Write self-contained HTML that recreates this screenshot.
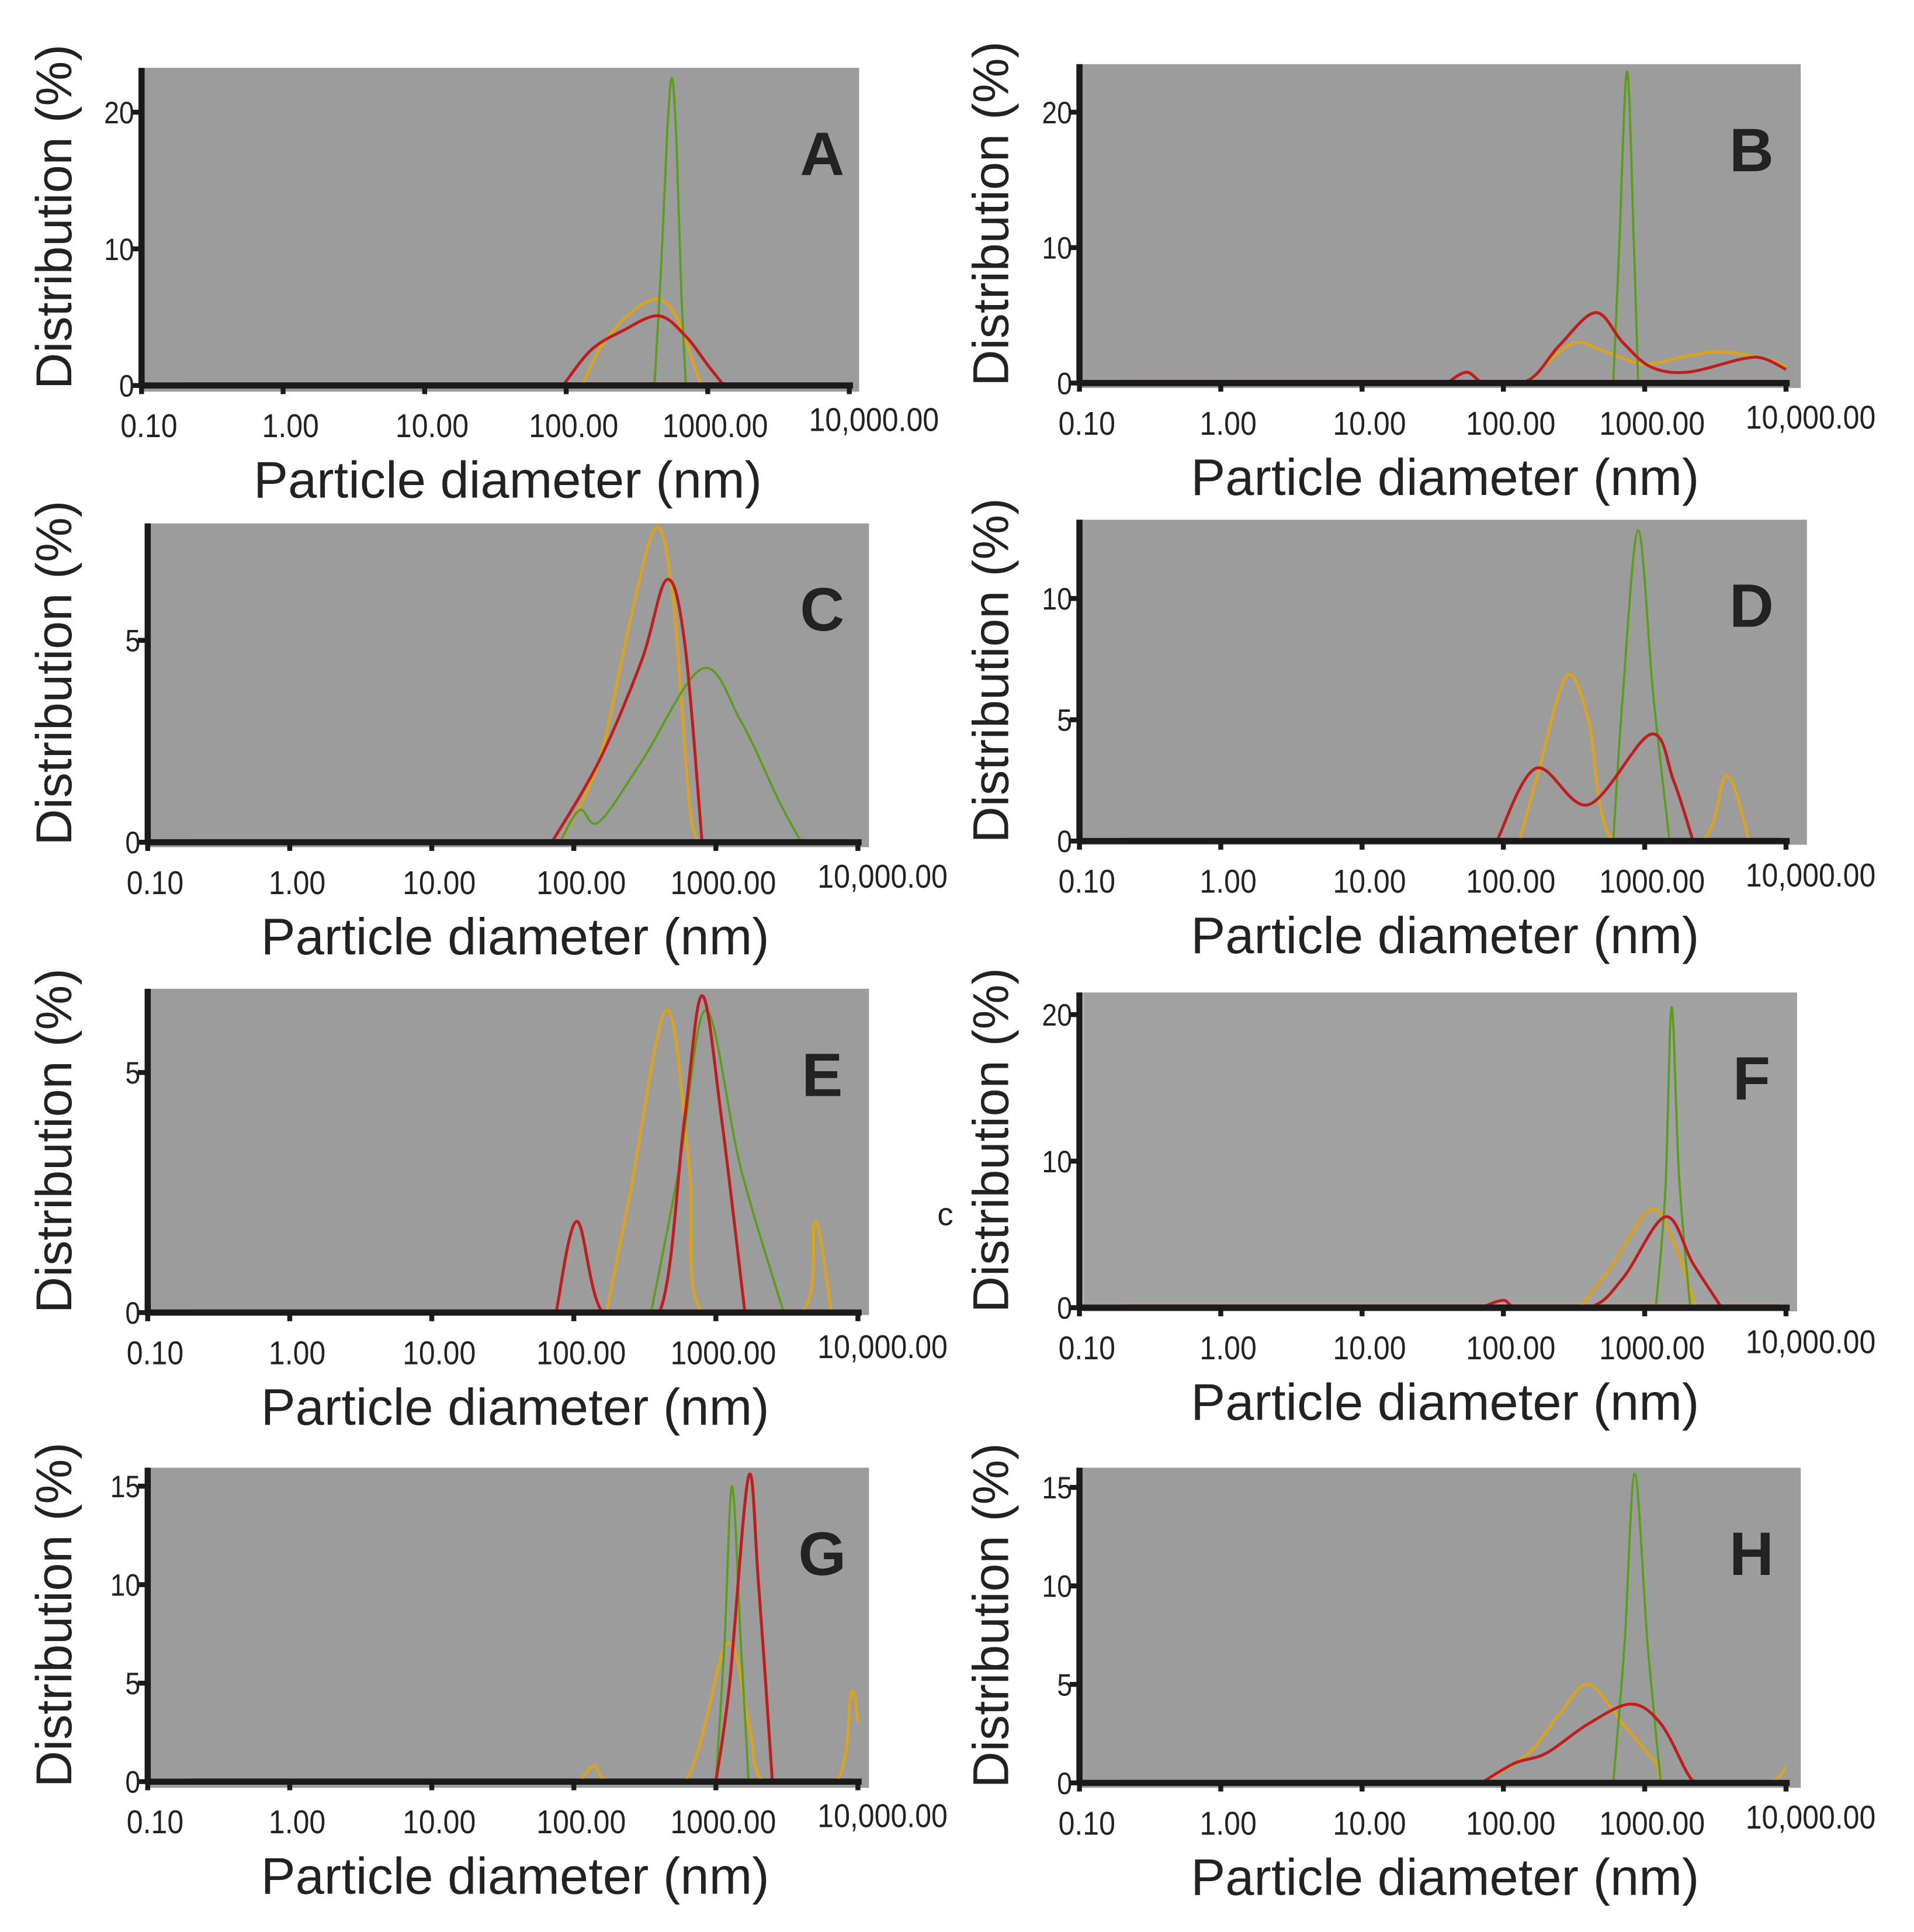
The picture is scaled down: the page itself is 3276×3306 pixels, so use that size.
<!DOCTYPE html>
<html><head><meta charset="utf-8"><style>
html,body{margin:0;padding:0;background:#fff;}
svg{display:block;}
text{font-family:"Liberation Sans",sans-serif;fill:#222;}
</style></head><body>
<svg id="fig" width="3276" height="3306" viewBox="0 0 1555 1569" xmlns="http://www.w3.org/2000/svg"></svg>
<script>
// Panel data: each series is [diameter_nm, distribution_%] points
const panelLetters = ["A","B","C","D","E","F","G","H"];
const xTickLabels = ["0.10","1.00","10.00","100.00","1000.00","10,000.00"];
const xTickValues = [0.1,1,10,100,1000,10000];
const yTicksA = [0,10,20], yTicksB = [0,10,20], yTicksC = [0,5], yTicksD = [0,5,10];
const yTicksE = [0,5], yTicksF = [0,10,20], yTicksG = [0,5,10,15], yTicksH = [0,5,10,15];

const greenA = [[420,0],[470,9],[520,19],[560,22.5],[600,18],[650,7],[700,0]];
const orangeA = [[130,0],[180,3],[300,5.5],[450,6.3],[600,5],[800,1.5],[900,0]];
const redA = [[95,0],[150,2.6],[250,4],[450,5.1],[700,3.6],[1000,1.5],[1300,0]];

const greenB = [[600,0],[660,10],[750,23],[840,10],[900,0]];
const orangeB = [[150,0],[220,1.8],[330,3],[500,2.4],[1000,1.4],[2000,2],[3500,2.3],[7000,1.8],[10000,1.2]];
const redB = [[40,0],[55,0.8],[75,0],[150,0.2],[250,2.8],[450,5.2],[700,3],[1100,1.2],[2000,0.8],[5000,1.8],[7000,1.8],[10000,1]];

const greenC = [[80,0],[110,0.8],[150,0.5],[300,2],[800,4.3],[1500,3],[2800,1],[4000,0]];
const orangeC = [[80,0],[150,2],[250,5.5],[380,7.8],[500,6],[650,1],[750,0]];
const redC = [[70,0],[150,2],[300,4.5],[450,6.5],[600,5],[800,0]];

const greenD = [[600,0],[700,6],[900,12.8],[1150,6],[1500,0]];
const orangeD = [[130,0],[180,3],[280,6.8],[400,5],[600,0],[2500,0],[3800,2.7],[5500,0]];
const redD = [[90,0],[170,3],[400,1.5],[1100,4.4],[1600,2.5],[2200,0]];

const greenE = [[350,0],[550,3],[850,6.3],[1500,3],[3000,0]];
const orangeE = [[170,0],[250,2.5],[450,6.3],[650,3],[800,0],[4000,0],[5000,1.9],[6500,0]];
const redE = [[75,0],[105,1.9],[160,0],[400,0],[600,4],[800,6.6],[1100,4],[1600,0]];

const greenF = [[1200,0],[1400,8],[1550,20.5],[1750,9],[2100,0]];
const orangeF = [[350,0],[600,3],[1100,6.7],[1600,4.5],[2300,0]];
const redF = [[70,0],[100,0.5],[130,0],[400,0],[700,2],[1400,6.2],[2200,3],[3500,0]];

const greenG = [[1000,0],[1150,7],[1300,15],[1500,7],[1700,0]];
const orangeG = [[110,0],[140,0.8],[180,0],[600,0],[1200,7],[1700,3],[2200,0],[7000,0],[9000,4.5],[10000,3]];
const redG = [[1000,0],[1250,5],[1700,15.5],[2000,10],[2500,0]];

const greenH = [[600,0],[720,7],[850,15.7],[1050,7],[1300,0]];
const orangeH = [[70,0],[150,1.5],[250,3.5],[400,5],[700,3],[1200,1],[1500,0],[7000,0],[10000,0.8]];
const redH = [[70,0],[120,1],[200,1.5],[400,3],[800,4],[1300,3],[2000,0.5],[2300,0]];

const greenSeries = [greenA,greenB,greenC,greenD,greenE,greenF,greenG,greenH];
const orangeSeries = [orangeA,orangeB,orangeC,orangeD,orangeE,orangeF,orangeG,orangeH];
const redSeries = [redA,redB,redC,redD,redE,redF,redG,redH];
const yTickSets = [yTicksA,yTicksB,yTicksC,yTicksD,yTicksE,yTicksF,yTicksG,yTicksH];

// layout (not data)
const layouts = [
 {ax:115,ax1:690,gx0:117,gx1:698,gy0:55,gy1:318,y0:313,ppu:11.1},
 {ax:877,ax1:1451,gx0:877,gx1:1463,gy0:52,gy1:315,y0:311,ppu:11.0},
 {ax:120,ax1:697,gx0:120,gx1:706,gy0:425,gy1:688,y0:684,ppu:32.8},
 {ax:877,ax1:1451,gx0:877,gx1:1468,gy0:422,gy1:686,y0:683,ppu:19.7},
 {ax:120,ax1:697,gx0:120,gx1:706,gy0:803,gy1:1068,y0:1066,ppu:39},
 {ax:877,ax1:1451,gx0:880,gx1:1460,gy0:806,gy1:1065,y0:1062,ppu:11.9},
 {ax:120,ax1:697,gx0:120,gx1:706,gy0:1192,gy1:1452,y0:1447,ppu:16},
 {ax:877,ax1:1451,gx0:877,gx1:1463,gy0:1192,gy1:1452,y0:1448,ppu:16}
];
const NS="http://www.w3.org/2000/svg";
const svg=document.getElementById('fig');
function mk(tag,attrs,parent){const e=document.createElementNS(NS,tag);for(const k in attrs)e.setAttribute(k,attrs[k]);(parent||svg).appendChild(e);return e;}
function smooth(pts){
  let d="M"+pts[0][0].toFixed(1)+","+pts[0][1].toFixed(1);
  for(let i=0;i<pts.length-1;i++){
    const p0=pts[i-1]||pts[i],p1=pts[i],p2=pts[i+1],p3=pts[i+2]||p2;
    const c1=[p1[0]+(p2[0]-p0[0])/6,p1[1]+(p2[1]-p0[1])/6];
    const c2=[p2[0]-(p3[0]-p1[0])/6,p2[1]-(p3[1]-p1[1])/6];
    d+=" C"+c1[0].toFixed(1)+","+c1[1].toFixed(1)+" "+c2[0].toFixed(1)+","+c2[1].toFixed(1)+" "+p2[0].toFixed(1)+","+p2[1].toFixed(1);
  }
  return d;
}
layouts.forEach((L,i)=>{
  const g=mk('g',{});
  
  
  const xs=v=>L.ax+(Math.log10(v)+1)*(L.ax1-L.ax)/5;
  const ys=v=>L.y0-v*L.ppu;
  const bg=mk('rect',{x:L.gx0,y:L.gy0,width:L.gx1-L.gx0,height:L.gy1-L.gy0,fill:i==5?'#a2a2a2':'#9c9c9c'},g);
  
  
  const cid='clip'+i;
  const cp=mk('clipPath',{id:cid},g);mk('rect',{x:L.gx0,y:L.gy0,width:L.gx1-L.gx0,height:L.y0-L.gy0},cp);
  const bl=mk('line',{x1:xs(0.2),x2:xs(9000),y1:L.y0-2,y2:L.y0-2,stroke:'#b03a2a','stroke-width':1.2},g);
  
  
  [['orange',orangeSeries[i],'#d9a321'],['green',greenSeries[i],'#5a9e1c'],['red',redSeries[i],'#c01e1e']].forEach(([nm,ser,col])=>{
    const pts=ser.map(p=>[xs(p[0]),ys(p[1])]);
    const path=mk('path',{d:smooth(pts),fill:'none',stroke:col,'stroke-width':nm=='green'?1.8:2.4,'clip-path':'url(#'+cid+')'},g);
    
    
  });
  const xa=mk('line',{x1:L.ax-2,x2:L.ax1+3,y1:L.y0,y2:L.y0,stroke:'#1a1a1a','stroke-width':5},g);
  
  
  const ya=mk('line',{x1:L.ax,x2:L.ax,y1:L.gy0,y2:L.y0+2,stroke:'#1a1a1a','stroke-width':5},g);
  
  
  xTickValues.forEach((v,k)=>{
    mk('line',{x1:xs(v),x2:xs(v),y1:L.y0,y2:L.y0+7,stroke:'#1a1a1a','stroke-width':4},g);
    const last=k==5;
    const tx=xs(v)+(last?20:6), ty=L.y0+(last?37:42);
    const t=mk('text',{x:0,y:0,'text-anchor':'middle','font-size':27,transform:'translate('+tx+' '+ty+') scale(0.88 1)'},g);
    t.textContent=xTickLabels[k];
    
    
  });
  yTickSets[i].forEach(v=>{
    mk('line',{x1:L.ax-8,x2:L.ax,y1:ys(v),y2:ys(v),stroke:'#1a1a1a','stroke-width':4},g);
    const t=mk('text',{x:0,y:0,'text-anchor':'end','font-size':25,transform:'translate('+(L.ax-6)+' '+(ys(v)+9)+') scale(0.88 1)'},g);
    t.textContent=String(v);
    
    
  });
  const xt=mk('text',{x:(L.ax+L.ax1)/2+10,y:L.y0+91,'text-anchor':'middle','font-size':42},g);
  xt.textContent='Particle diameter (nm)';
  
  
  const cx=(i%2==0)?58:819, cy=(L.gy0+L.y0)/2-8;
  const yt=mk('text',{x:cx,y:cy,'text-anchor':'middle','font-size':41,transform:'rotate(-90 '+cx+' '+cy+')'},g);
  yt.textContent='Distribution (%)';
  
  
  const lt=mk('text',{x:(i%2==0)?668:1423,y:L.gy0+87,'text-anchor':'middle','font-size':50,'font-weight':'bold'},g);
  lt.textContent=panelLetters[i];
  
  
});
const stray=mk('text',{x:768,y:995,'text-anchor':'middle','font-size':26});
stray.textContent='c';


</script>
</body></html>
